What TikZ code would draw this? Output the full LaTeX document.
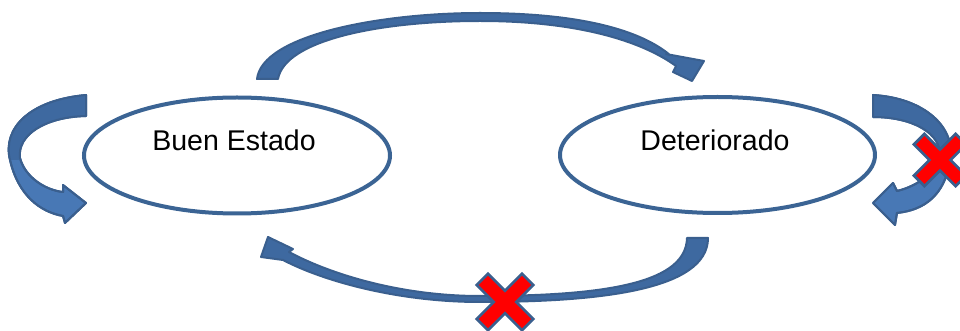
\documentclass[tikz,border=0pt]{standalone}
\usepackage{fontspec}
\setmainfont{Liberation Sans}
\usetikzlibrary{shapes.geometric}
\definecolor{edgeblue}{HTML}{3B6494}
\definecolor{arrfill}{HTML}{4878B5}
\definecolor{arrdark}{HTML}{3E69A0}
\definecolor{arrline}{HTML}{3A5F8E}
\definecolor{xred}{HTML}{FF0000}
\def\LoopLeftPath{(86,95) .. controls (30,100) and (2,128) .. (10,160) .. controls (18,195) and (40,212) .. (63,216) -- (65,223) -- (86,203) -- (63,185) -- (63,192) .. controls (45,190) and (25,177) .. (20,158) .. controls (17,135) and (45,117) .. (86,116) -- cycle}
\def\LoopRightPath{(873,95) .. controls (925,98) and (957,128) .. (950,162) .. controls (944,195) and (925,210) .. (897,213) -- (895,225) -- (873,203) -- (893,183) -- (897,191) .. controls (918,186) and (936,172) .. (940,157) .. controls (942,133) and (912,117) .. (873,117) -- cycle}
\begin{document}
\begin{tikzpicture}[x=0.75pt,y=-0.75pt,
  state/.style={draw=edgeblue,line width=3pt,ellipse,inner sep=0pt},
  lbl/.style={font=\fontsize{21.4pt}{24pt}\selectfont,inner sep=0pt,text=black},
  blockarrow/.style={fill=arrfill,draw=arrline,line width=1.5pt,line join=round},
  arcarrow/.style={fill=arrdark,draw=arrline,line width=1.5pt,line join=round},
  arrowback/.style={fill=arrdark},
  arrowedge/.style={draw=arrline,line width=1.5pt,line join=round},
  crossmark/.style={fill=xred,draw=arrline,line width=2pt,line join=miter},
  xmark/.pic={\path[crossmark] (8,32) -- (8,8) -- (32,8) -- (32,-8) -- (8,-8) -- (8,-32) -- (-8,-32) -- (-8,-8) -- (-32,-8) -- (-32,8) -- (-8,8) -- (-8,32) -- cycle;}]
\useasboundingbox (0,0) rectangle (960,331);
% states
\node[state,minimum width=229.5pt,minimum height=87pt] (buen) at (237,155.5) {};
\node[state,minimum width=236.25pt,minimum height=87pt] (deter) at (717.5,155) {};
\node[lbl] (buentxt) at (234,140) {Buen Estado};
\node[lbl] (detertxt) at (715,140) {Deteriorado};
% top arrow: Buen Estado -> Deteriorado
\path[arcarrow] (257,79) .. controls (262,35) and (380,13) .. (480,13) .. controls (580,13) and (640,30) .. (670,55) -- (666,54) -- (704,61) -- (692,81) -- (673,72) -- (676,66) .. controls (640,40) and (575,21) .. (480,21) .. controls (380,21) and (285,40) .. (278,79) -- cycle;
% bottom arrow: Deteriorado -> Buen Estado
\path[arcarrow] (708,238) .. controls (708,290) and (600,302) .. (480,302) .. controls (400,302) and (325,282) .. (283,260) -- (261,257) -- (268,237) -- (293,249) -- (289,252) .. controls (330,274) and (400,296) .. (480,296) .. controls (610,296) and (686,282) .. (687,238) -- cycle;
% left self loop
\path[blockarrow] \LoopLeftPath;
\begin{scope}
\clip (0,0) rectangle (100,160);
\path[arrowback] \LoopLeftPath;
\end{scope}
\path[arrowedge] \LoopLeftPath;
% right self loop
\path[blockarrow] \LoopRightPath;
\begin{scope}
\clip (860,0) rectangle (960,160);
\path[arrowback] \LoopRightPath;
\end{scope}
\path[arrowedge] \LoopRightPath;
% crosses
\pic[rotate=45] (xbottom) at (505,302) {xmark};
\pic[rotate=45,scale=0.92] (xright) at (940,160) {xmark};
\end{tikzpicture}
\end{document}
